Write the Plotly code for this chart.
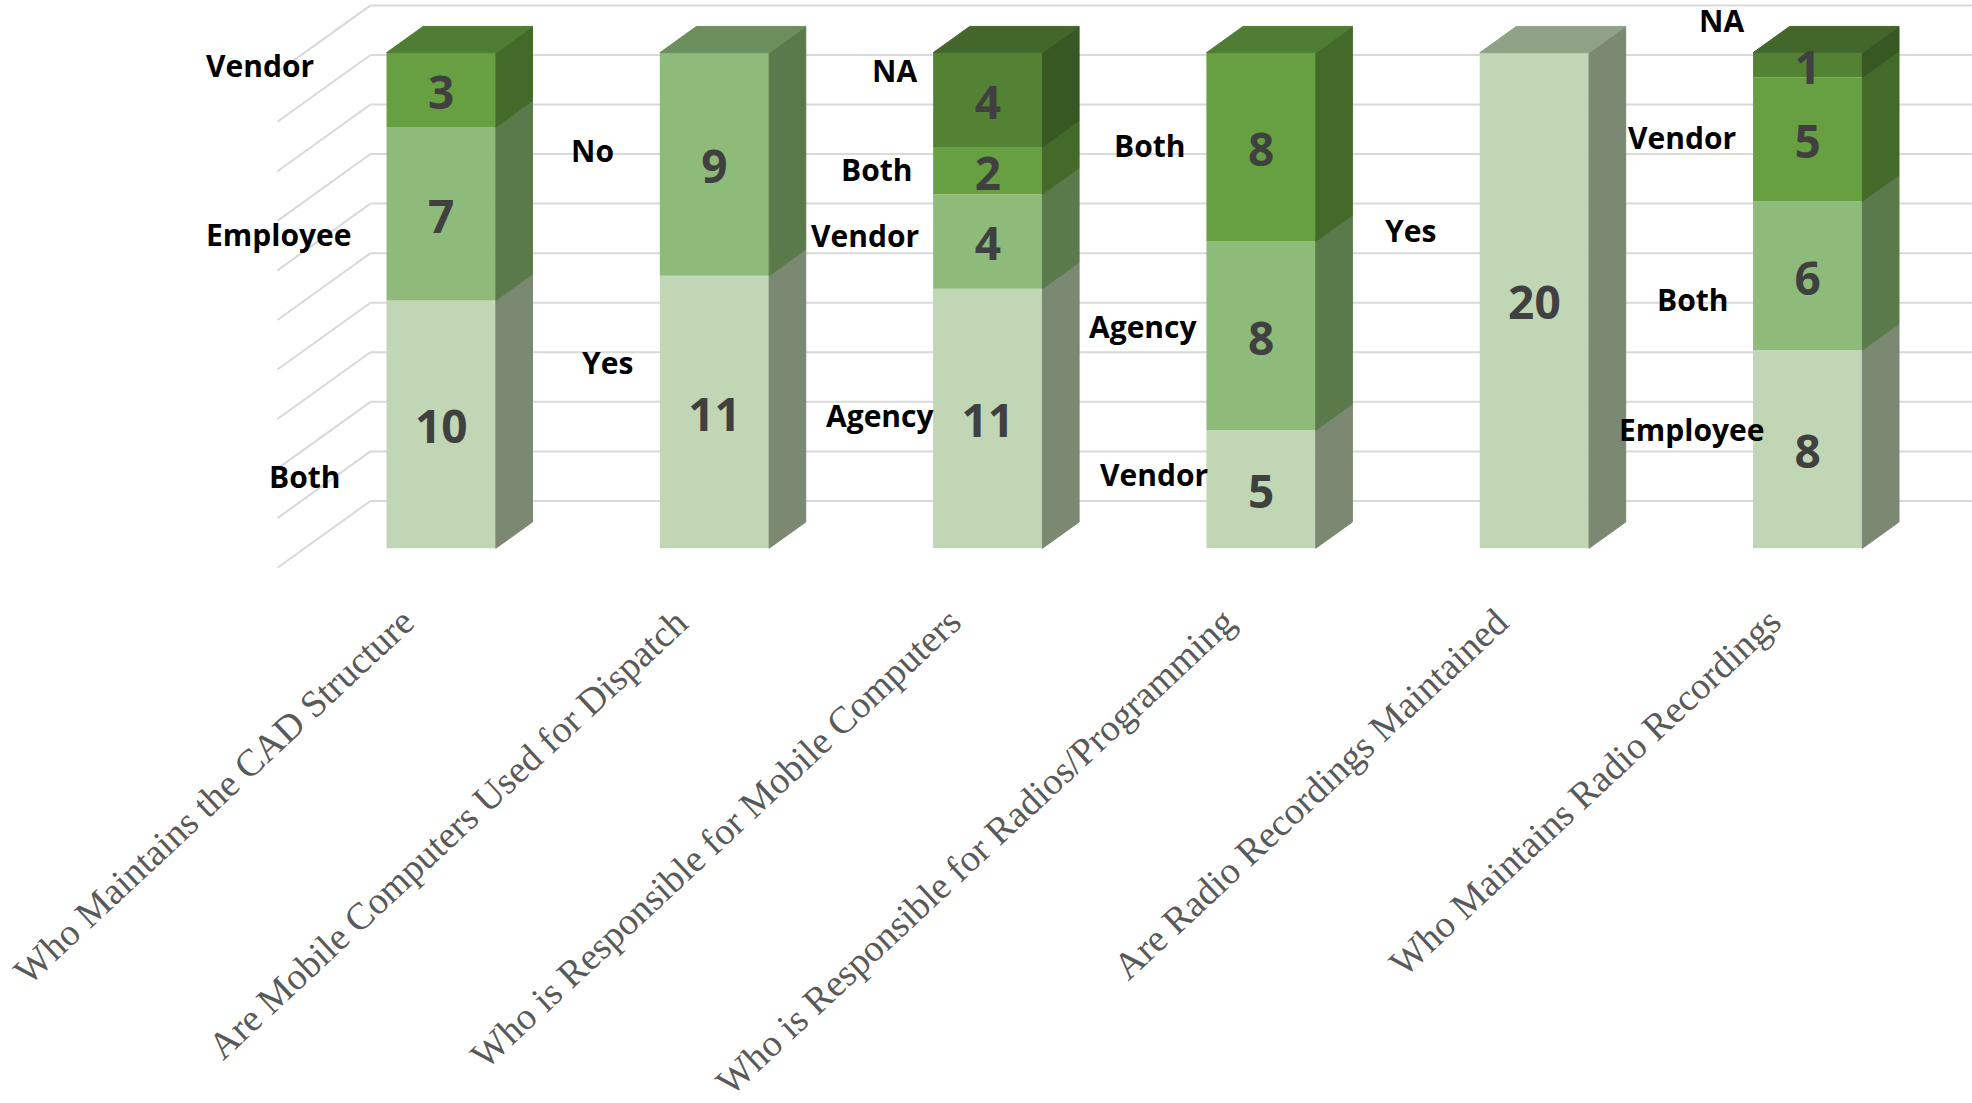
import plotly.graph_objects as go

# ---- data -------------------------------------------------------------
categories = [
    "Who Maintains the CAD Structure",
    "Are Mobile Computers Used for Dispatch",
    "Who is Responsible for Mobile Computers",
    "Who is Responsible for Radios/Programming",
    "Are Radio Recordings Maintained",
    "Who Maintains Radio Recordings",
]

cad_labels = ["Both", "Employee", "Vendor"]
cad_counts = [10, 7, 3]

dispatch_labels = ["Yes", "No"]
dispatch_counts = [11, 9]

mobile_labels = ["Agency", "Vendor", "Both", "NA"]
mobile_counts = [11, 4, 2, 4]

radios_labels = ["Vendor", "Agency", "Both"]
radios_counts = [5, 8, 8]

recorded_labels = ["Yes"]
recorded_counts = [20]

recordings_labels = ["Employee", "Both", "Vendor", "NA"]
recordings_counts = [8, 6, 5, 1]

stack_labels = [cad_labels, dispatch_labels, mobile_labels,
                radios_labels, recorded_labels, recordings_labels]
stack_counts = [cad_counts, dispatch_counts, mobile_counts,
                radios_counts, recorded_counts, recordings_counts]

# 100% stacked value axis: gridlines every 10%
tick_values = list(range(0, 101, 10))

# ---- styling / layout --------------------------------------------------
FRONT = ["#C0D6B4", "#8FBB7A", "#67A041", "#548235"]
SIDE = ["#7B8872", "#5B7A4C", "#446A2A", "#375723"]
TOP = ["#8FA287", "#6B8E5C", "#4E7D33", "#43672B"]
GRID = "#D9D9D9"

BAR_HALF = 0.2           # half of bar width (category units)
DX, DY = 0.134, 5.305    # screen shift per unit of depth (x units, percent)
WALL_Z, FRONT_Z = 1.8, -0.74
WALL_LEFT = -0.5
VALUE_DROP = 1.5         # data labels sit slightly below the segment middle

LABEL_FONT = dict(family="Open Sans", size=30, color="#000000")
VALUE_FONT = dict(family="Open Sans", size=46, color="#404040")
CAT_FONT = dict(family="Liberation Serif", size=38, color="#595959")

# placement of the answer names next to each stack: (offset from category, percent height)
name_positions = [
    [(-0.502, 14.4), (-0.595, 63.4), (-0.663, 97.5)],
    [(-0.390, 37.4), (-0.445, 80.35)],
    [(-0.394, 26.7), (-0.449, 63.2), (-0.409, 76.35), (-0.340, 96.5)],
    [(-0.392, 14.8), (-0.432, 44.85), (-0.410, 81.2)],
    [(-0.455, 64.05)],
    [(-0.424, 24.05), (-0.420, 50.3), (-0.460, 82.8), (-0.317, 106.4)],
]


def shift(x, y, z):
    return x + z * DX, y + z * DY


def shares(counts):
    total = sum(counts)
    return [100.0 * c / total for c in counts]


fig = go.Figure()
shapes = []

# back wall and side wall gridlines
for v in tick_values:
    bx, by = shift(WALL_LEFT, v, WALL_Z)
    fx, fy = shift(WALL_LEFT, v, FRONT_Z)
    shapes.append(dict(type="line", xref="x", yref="y", x0=bx, y0=by,
                       x1=len(categories) + 1, y1=by,
                       line=dict(color=GRID, width=2), layer="below"))
    shapes.append(dict(type="line", xref="x", yref="y", x0=fx, y0=fy,
                       x1=bx, y1=by,
                       line=dict(color=GRID, width=2), layer="below"))

# front faces of every stacked segment
max_levels = max(len(c) for c in stack_counts)
for k in range(max_levels):
    xs, ys, bases, raw = [], [], [], []
    for i, counts in enumerate(stack_counts):
        if k < len(counts):
            pct = shares(counts)
            xs.append(i)
            ys.append(pct[k])
            bases.append(sum(pct[:k]))
            raw.append(counts[k])
    fig.add_trace(go.Bar(
        x=xs, y=ys, base=bases, width=2 * BAR_HALF, customdata=raw,
        marker=dict(color=FRONT[k], line=dict(width=0)),
        hoverinfo="skip", showlegend=False,
    ))


def polygon(pts, color):
    xs = [p[0] for p in pts] + [pts[0][0]]
    ys = [p[1] for p in pts] + [pts[0][1]]
    fig.add_trace(go.Scatter(
        x=xs, y=ys, mode="lines", fill="toself", fillcolor=color,
        line=dict(color=color, width=1), hoverinfo="skip", showlegend=False,
    ))


# side and top faces
for i, counts in enumerate(stack_counts):
    right = i + BAR_HALF
    left = i - BAR_HALF
    base = 0.0
    for k, p in enumerate(shares(counts)):
        top = base + p
        polygon([(right, base), (right, top), shift(right, top, 1),
                 shift(right, base, 1)], SIDE[k])
        base = top
    k_top = len(counts) - 1
    polygon([(left, base), (right, base), shift(right, base, 1),
             shift(left, base, 1)], TOP[k_top])

# value labels (raw counts) on each front face
vx, vy, vt = [], [], []
for i, counts in enumerate(stack_counts):
    base = 0.0
    for c, p in zip(counts, shares(counts)):
        vx.append(i)
        vy.append(base + p / 2 - VALUE_DROP)
        vt.append(f"<b>{c}</b>")
        base += p
fig.add_trace(go.Scatter(
    x=vx, y=vy, text=vt, mode="text", textfont=VALUE_FONT,
    hoverinfo="skip", showlegend=False,
))

annotations = []
# answer names
for i, (labels, positions) in enumerate(zip(stack_labels, name_positions)):
    for name, (dx, yv) in zip(labels, positions):
        annotations.append(dict(
            x=i + dx, y=yv, xref="x", yref="y", text=f"<b>{name}</b>",
            showarrow=False, font=LABEL_FONT,
            xanchor="center", yanchor="middle",
        ))

# category labels along the front floor edge
for i, cat in enumerate(categories):
    ax_, ay_ = shift(i, 0, FRONT_Z)
    annotations.append(dict(
        x=ax_ + 0.04, y=ay_ - 6.0, xref="x", yref="y", text=cat,
        showarrow=False, font=CAT_FONT, textangle=-43,
        xanchor="right", yanchor="top",
    ))

fig.update_layout(
    width=1972, height=1103,
    margin=dict(l=0, r=0, t=0, b=0),
    paper_bgcolor="white", plot_bgcolor="white",
    barmode="overlay",
    showlegend=False,
    shapes=shapes,
    annotations=annotations,
    xaxis=dict(range=[-1.6143, 5.6011], visible=False, fixedrange=True),
    yaxis=dict(range=[-111.935, 110.635], visible=False, fixedrange=True),
)

fig.write_html("out.html")
